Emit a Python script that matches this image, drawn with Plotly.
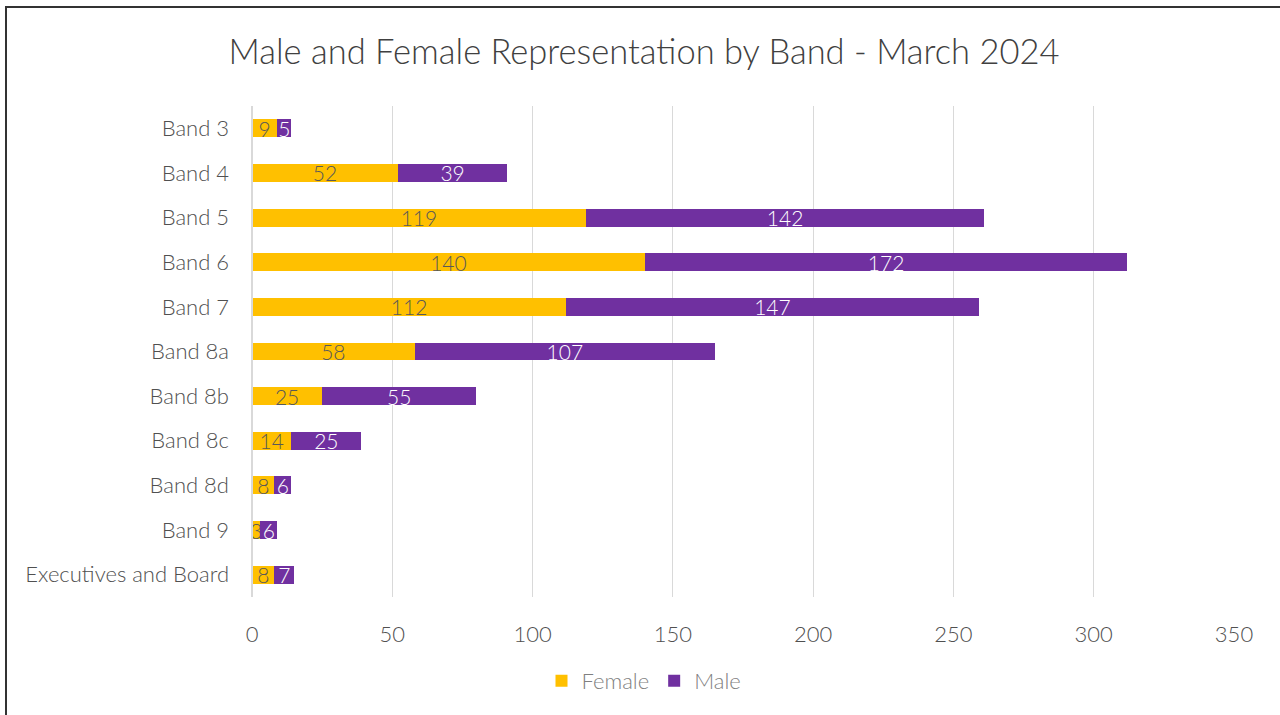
import plotly.graph_objects as go

categories = ["Band 3", "Band 4", "Band 5", "Band 6", "Band 7", "Band 8a",
              "Band 8b", "Band 8c", "Band 8d", "Band 9", "Executives and Board"]
female = [9, 52, 119, 140, 112, 58, 25, 14, 8, 3, 8]
male = [5, 39, 142, 172, 147, 107, 55, 25, 6, 6, 7]
x_ticks = [0, 50, 100, 150, 200, 250, 300, 350]

FONT = "Lato"
GREY = "#595959"
FS = 21

fig = go.Figure()
fig.add_trace(go.Bar(
    y=categories, x=female, name="Female", orientation="h",
    marker=dict(color="#FFC000", line=dict(width=0)),
    text=female, textposition="inside", insidetextanchor="middle", textangle=0,
    textfont=dict(color=GREY, size=FS, family=FONT, weight=300), width=0.4,
))
fig.add_trace(go.Bar(
    y=categories, x=male, name="Male", orientation="h",
    marker=dict(color="#7030A0", line=dict(width=0)),
    text=male, textposition="inside", insidetextanchor="middle", textangle=0,
    textfont=dict(color="white", size=FS, family=FONT, weight=300), width=0.4,
))

L, R, T, B = 252, 46, 106, 118
pw = 1280 - L - R
ph = 715 - T - B

fig.update_layout(
    barmode="stack",
    width=1280, height=715,
    margin=dict(l=L, r=R, t=T, b=B),
    paper_bgcolor="white", plot_bgcolor="white",
    font=dict(family=FONT, color=GREY, weight=300),
    uniformtext=dict(mode="show", minsize=FS),
    title=dict(text="Male and Female Representation by Band - March 2024",
               x=644 / 1280, xanchor="center", xref="container",
               y=1 - 52 / 715, yanchor="middle", yref="container",
               font=dict(size=34.5, color="#404040", family=FONT, weight=300)),
    xaxis=dict(range=[0, 350], tickvals=x_ticks, showgrid=True,
               gridcolor="#D9D9D9", gridwidth=1, zeroline=False,
               showline=False, ticks="", ticklabelstandoff=22,
               tickfont=dict(size=22, color="#505050", family=FONT, weight=300)),
    yaxis=dict(categoryorder="array", categoryarray=categories,
               autorange="reversed", showgrid=False, zeroline=False,
               showline=False, ticks="", ticklabelstandoff=22,
               tickfont=dict(size=22, color="#505050", family=FONT, weight=300)),
    legend=dict(orientation="h", x=(644 - L) / pw, xanchor="center",
                y=(597 - 681) / ph, yanchor="middle",
                font=dict(size=22, color="#808080", family=FONT, weight=300),
                itemwidth=30, traceorder="normal"),
    bargap=0.6,
    shapes=[dict(type="line", xref="paper", yref="paper",
                 x0=0, x1=0, y0=0, y1=1,
                 line=dict(color="#D9D9D9", width=2)),
            dict(type="rect", xref="paper", yref="paper",
                 x0=(6 - L) / pw, x1=(1400 - L) / pw,
                 y0=(597 - 800) / ph, y1=(597 - 7) / ph,
                 line=dict(color="#333333", width=2), layer="below")],
)

fig.write_html("out.html")
